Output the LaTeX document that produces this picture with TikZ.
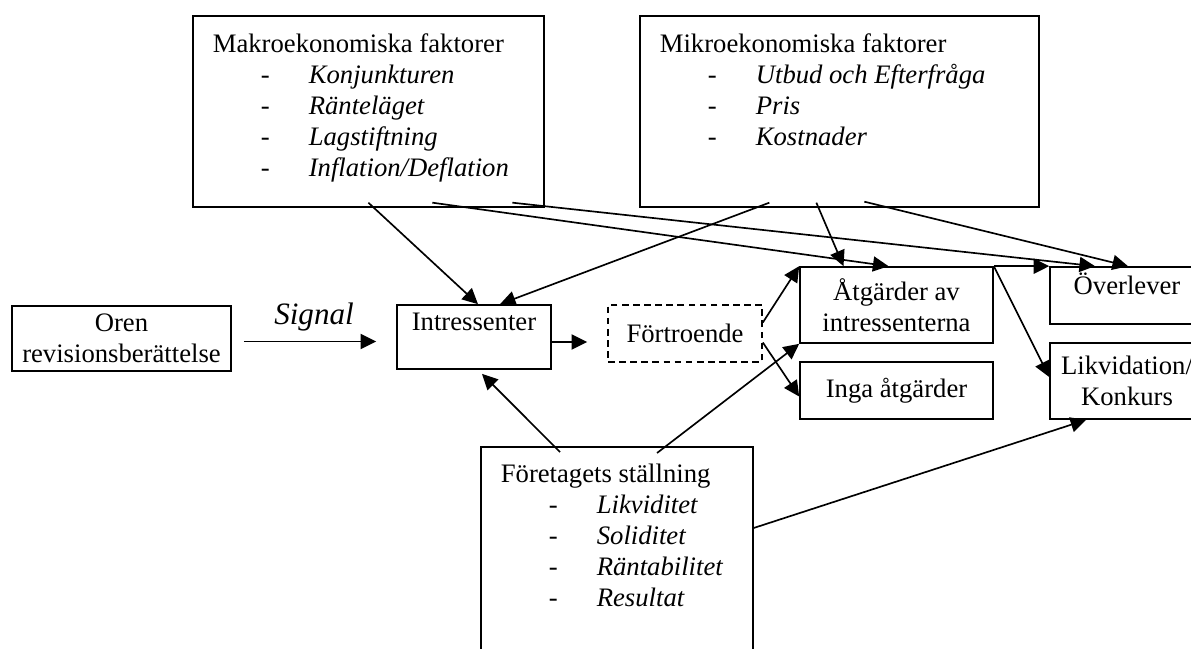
\documentclass[tikz,border=0pt]{standalone}
\usepackage{fontspec}
\setmainfont{Liberation Serif}
\usetikzlibrary{positioning}
\usetikzlibrary{calc}
\usetikzlibrary{arrows.meta}

\newlength{\px}
\setlength{\px}{0.45pt}
\newcommand{\punkt}[1]{\\\hspace*{68\px}\makebox[48\px][l]{-}\textit{#1}}

\begin{document}
\begin{tikzpicture}[
        x=0.45pt, y=-0.45pt,
        Box/.style={rectangle, draw=black, line width=0.75pt, inner sep=0pt, align=center, font=\fontsize{12}{13.95}\selectfont},
        DashBox/.style={Box, dash pattern=on 3pt off 2pt},
        ListBox/.style={Box, anchor=north west, align=left},
        Arr/.style={line width=0.75pt, -{Triangle[length=7pt, width=6.8pt]}},
        ]
    \useasboundingbox (0,0) rectangle (1191,648);
    \clip (0,0) rectangle (1191,648);

    \node[ListBox] (makro) at (192,15) {\parbox[c][191\px][t]{351\px}{\raggedright\vspace*{18\px}%
        \hspace*{20\px}Makroekonomiska faktorer%
        \punkt{Konjunkturen}%
        \punkt{Ränteläget}%
        \punkt{Lagstiftning}%
        \punkt{Inflation/Deflation}}};
    \node[ListBox] (mikro) at (639,15) {\parbox[c][191\px][t]{399\px}{\raggedright\vspace*{18\px}%
        \hspace*{20\px}Mikroekonomiska faktorer%
        \punkt{Utbud och Efterfråga}%
        \punkt{Pris}%
        \punkt{Kostnader}}};
    \node[ListBox] (foret) at (480,446) {\parbox[c][214\px][t]{272\px}{\raggedright\vspace*{17\px}%
        \hspace*{20\px}Företagets ställning%
        \punkt{Likviditet}%
        \punkt{Soliditet}%
        \punkt{Räntabilitet}%
        \punkt{Resultat}}};

    \node[Box, minimum width=219\px, minimum height=65\px] (oren) at (121.5,338.5) {Oren\\revisionsberättelse};
    \node[Box, minimum width=154\px, minimum height=64\px] (intr) at (474,337) {Intressenter\\ \mbox{}};
    \node[DashBox, minimum width=154\px, minimum height=57\px] (fort) at (685,333.5) {Förtroende};
    \node[Box, minimum width=193\px, minimum height=76\px] (atg) at (896.5,305) {Åtgärder av\\intressenterna};
    \node[Box, minimum width=193\px, minimum height=57\px] (inga) at (896.5,390.5) {Inga åtgärder};
    \node[Box, minimum width=154\px, minimum height=57\px] (over) at (1127,295.5) {Överlever\\[-8\px] \mbox{}};
    \node[Box, minimum width=154\px, minimum height=76\px] (likv) at (1127,381) {Likvidation/\\Konkurs};

    % signal
    \coordinate (sig) at ([yshift=-3\px]oren.east);
    \draw[Arr, shorten <=12\px, shorten >=20\px] (sig) -- (sig -| intr.west)
        node[midway, above=1pt, font=\fontsize{14}{16}\selectfont\itshape] (signal) {Signal};
    \coordinate (ut) at ([yshift=-5\px]intr.east);
    \draw[Arr, shorten >=20\px] (ut) -- (ut -| fort.west);

    \draw[Arr] ([yshift=5\px]makro.south) -- ([xshift=4\px]intr.north);
    \draw[Arr] ([xshift=64\px, yshift=5\px]makro.south) -- ([xshift=-8\px]atg.north);
    \draw[Arr] ([xshift=144\px, yshift=5\px]makro.south) -- ([xshift=-32\px]over.north);
    \draw[Arr] ([xshift=-70\px, yshift=5\px]mikro.south) -- ([xshift=26\px]intr.north);
    \draw[Arr] ([xshift=-23\px, yshift=5\px]mikro.south) -- ([xshift=-53\px]atg.north);
    \draw[Arr] ([xshift=25\px, yshift=6\px]mikro.south) -- ([xshift=1\px]over.north);

    \draw[Arr] ([yshift=11\px]fort.east) -- (atg.north west);
    \draw[Arr] ([yshift=-9\px]fort.east) -- ([yshift=-6\px]inga.west);
    \draw[Arr] (atg.north east) -- (over.north west);
    \draw[Arr] (atg.north east) -- ([yshift=4\px]likv.west);

    \draw[Arr] ([xshift=80\px, yshift=-6\px]foret.north west) -- ([xshift=8\px, yshift=-4\px]intr.south);
    \draw[Arr] ([xshift=177\px, yshift=-7\px]foret.north west) -- (atg.south west);
    \draw[Arr] ([yshift=-82\px]foret.north east) -- ([xshift=37\px]likv.south west);
\end{tikzpicture}
\end{document}
